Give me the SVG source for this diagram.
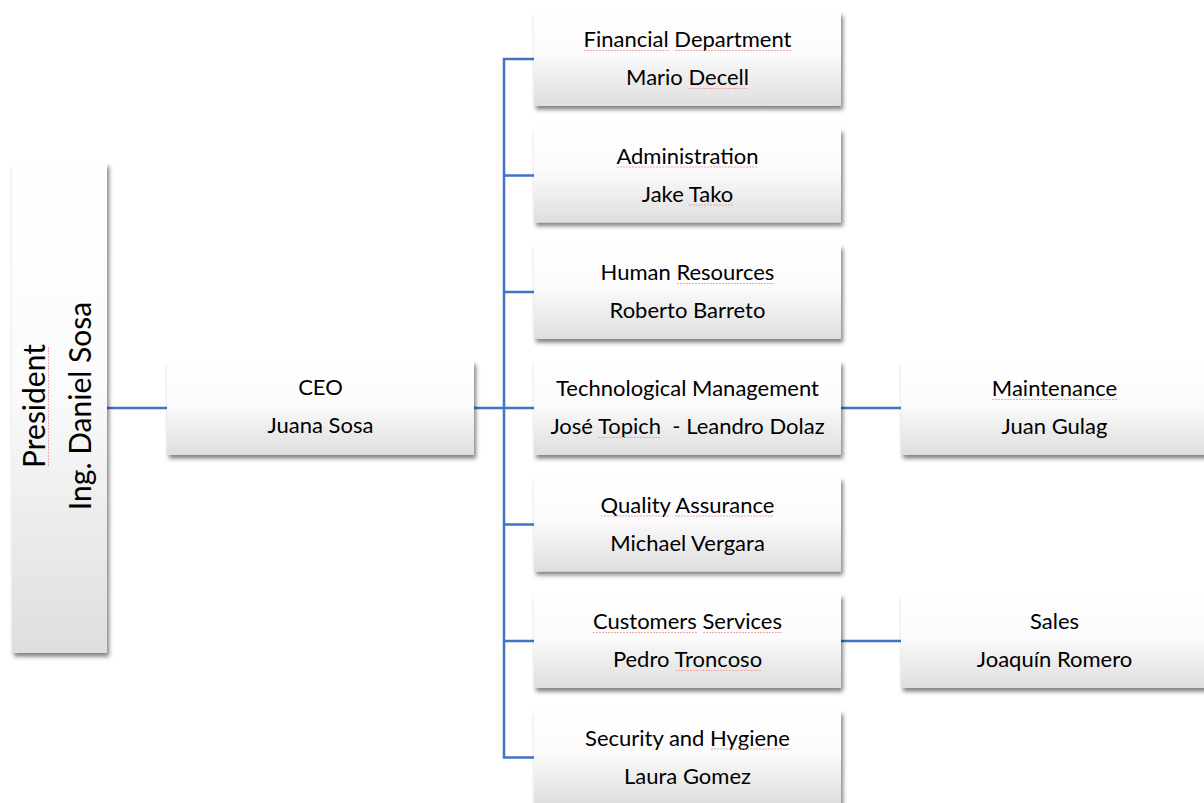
<svg xmlns="http://www.w3.org/2000/svg" width="1204" height="803" viewBox="0 0 1204 803">
<style>
text{font-family:Lato,"Open Sans","Liberation Sans",sans-serif;fill:#000;}
.t{font-size:22px;text-anchor:middle;}
.p{font-size:30px;text-anchor:middle;}
.box{fill:url(#g);filter:url(#sh);}
.con{stroke:#4472C4;stroke-width:2.5;fill:none;}
.sp{stroke:#f0a8a8;stroke-width:1;fill:none;stroke-dasharray:2 1;}
</style>
<defs>
<linearGradient id="g" x1="0" y1="0" x2="0" y2="1">
<stop offset="0" stop-color="#ffffff"/>
<stop offset="0.45" stop-color="#fbfbfb"/>
<stop offset="1" stop-color="#dedede"/>
</linearGradient>
<filter id="sh" x="-10%" y="-10%" width="130%" height="140%">
<feDropShadow dx="2" dy="3.5" stdDeviation="2.2" flood-color="#000" flood-opacity="0.5"/>
</filter>
</defs>
<rect width="1204" height="803" fill="#fff"/>
<g id="connectors">
<path class="con" d="M107 408H167"/>
<path class="con" d="M474 408H534"/>
<path class="con" d="M534 59H504V757.5H534"/>
<path class="con" d="M504 175.5H534M504 292H534M504 524.5H534M504 641H534"/>
<path class="con" d="M841 408H901"/>
<path class="con" d="M841 641H901"/>
</g>
<g id="president">
<rect class="box" x="12" y="163" width="95" height="490"/>
<text class="p" transform="translate(45,406) rotate(-90)">President</text>
<text class="p" transform="translate(91,406) rotate(-90)">Ing. Daniel Sosa</text>
<path class="sp" d="M48.5 347V467"/>
</g>
<g id="ceo">
<rect class="box" x="167" y="361" width="307" height="94"/>
<text class="t" x="320.5" y="395">CEO</text>
<text class="t" x="320.5" y="433">Juana Sosa</text>
</g>
<g id="financial">
<rect class="box" x="534" y="12" width="307" height="94"/>
<text class="t" x="687.5" y="47">Financial Department</text>
<text class="t" x="687.5" y="85">Mario Decell</text>
<path class="sp" d="M584 50.5H669M675 50.5H791M689 88.5H749"/>
</g>
<g id="administration">
<rect class="box" x="534" y="128.5" width="307" height="94"/>
<text class="t" x="687.5" y="163.5">Administration</text>
<text class="t" x="687.5" y="201.5">Jake Tako</text>
<path class="sp" d="M617 167H758M689 205H733"/>
</g>
<g id="hr">
<rect class="box" x="534" y="245" width="307" height="94"/>
<text class="t" x="687.5" y="280">Human Resources</text>
<text class="t" x="687.5" y="318">Roberto Barreto</text>
<path class="sp" d="M677 283.5H774"/>
</g>
<g id="tech">
<rect class="box" x="534" y="361" width="307" height="94"/>
<text class="t" x="687.5" y="396">Technological Management</text>
<text class="t" x="687.5" y="434" xml:space="preserve">José Topich  - Leandro Dolaz</text>
<path class="sp" d="M598 437.5H661"/>
</g>
<g id="quality">
<rect class="box" x="534" y="477.5" width="307" height="94"/>
<text class="t" x="687.5" y="512.5">Quality Assurance</text>
<text class="t" x="687.5" y="550.5">Michael Vergara</text>
<path class="sp" d="M601 516H670M675 516H774"/>
</g>
<g id="customers">
<rect class="box" x="534" y="594" width="307" height="94"/>
<text class="t" x="687.5" y="629">Customers Services</text>
<text class="t" x="687.5" y="667">Pedro Troncoso</text>
<path class="sp" d="M593 632.5H697M703 632.5H782M675 670.5H762"/>
</g>
<g id="security">
<rect class="box" x="534" y="710.5" width="307" height="94"/>
<text class="t" x="687.5" y="745.5">Security and Hygiene</text>
<text class="t" x="687.5" y="783.5">Laura Gomez</text>
<path class="sp" d="M711 749H790"/>
</g>
<g id="maintenance">
<rect class="box" x="901" y="361" width="307" height="94"/>
<text class="t" x="1054.5" y="396">Maintenance</text>
<text class="t" x="1054.5" y="434">Juan Gulag</text>
<path class="sp" d="M992 399.5H1117"/>
</g>
<g id="sales">
<rect class="box" x="901" y="594" width="307" height="94"/>
<text class="t" x="1054.5" y="629">Sales</text>
<text class="t" x="1054.5" y="667">Joaquín Romero</text>
</g>
</svg>
